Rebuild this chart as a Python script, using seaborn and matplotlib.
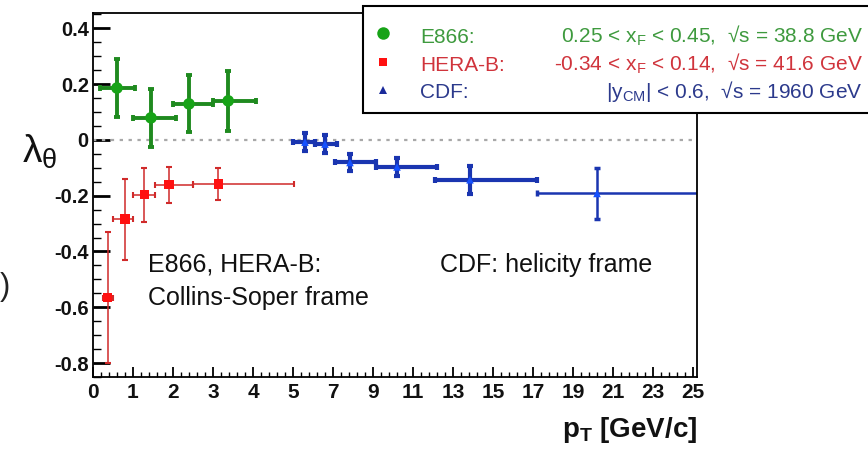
import numpy as np
import pandas as pd
import matplotlib
matplotlib.use("Agg")
import matplotlib.pyplot as plt
import seaborn as sns
from matplotlib.patches import Rectangle
from matplotlib.lines import Line2D
from matplotlib import font_manager

# ---------------- data ----------------
e866_pt = [0.6, 1.45, 2.4, 3.38]
e866_pt_lo = [0.175, 1.0, 2.0, 3.0]
e866_pt_hi = [1.05, 2.07, 3.0, 4.08]
e866_lam = [0.186, 0.079, 0.129, 0.140]
e866_lam_err = [0.105, 0.103, 0.102, 0.108]

hera_pt = [0.37, 0.8, 1.28, 1.9, 3.13]
hera_pt_lo = [0.25, 0.5, 1.0, 1.55, 2.5]
hera_pt_hi = [0.5, 1.0, 1.55, 2.5, 5.05]
hera_lam = [-0.566, -0.284, -0.197, -0.161, -0.158]
hera_lam_err = [0.235, 0.145, 0.097, 0.065, 0.057]

cdf_pt = [5.6, 6.6, 7.85, 10.2, 13.85, 20.2]
cdf_pt_lo = [5.0, 6.1, 7.1, 9.15, 12.1, 17.2]
cdf_pt_hi = [6.1, 7.2, 9.15, 12.2, 17.2, 30.0]
cdf_lam = [-0.008, -0.015, -0.081, -0.097, -0.143, -0.192]
cdf_lam_err = [0.033, 0.033, 0.030, 0.032, 0.050, 0.090]

x_ticks = [0, 1, 2, 3, 4, 5, 7, 9, 11, 13, 15, 17, 19, 21, 23, 25]
y_ticks = [-0.8, -0.6, -0.4, -0.2, 0.0, 0.2, 0.4]
y_tick_labels = ["-0.8", "-0.6", "-0.4", "-0.2", "0", "0.2", "0.4"]

legend_names = ["E866:", "HERA-B:", "CDF:"]
legend_ranges = [
    r"0.25 < $\mathregular{x_F}$ < 0.45,  √s = 38.8 GeV",
    r"-0.34 < $\mathregular{x_F}$ < 0.14,  √s = 41.6 GeV",
    r"|$\mathregular{y_{CM}}$| < 0.6,  √s = 1960 GeV",
]

# ---------------- style ----------------
sns.set_theme(style="ticks")
plt.rcParams["font.family"] = ["Liberation Sans", "DejaVu Sans"]
plt.rcParams["mathtext.default"] = "regular"

available = {f.name for f in font_manager.fontManager.ttflist}
narrow = "Liberation Sans Narrow" if "Liberation Sans Narrow" in available else "Liberation Sans"

green_line = "#1f8a1f"
green_mark = "#17a317"
red_line = "#d02a2a"
red_mark = "#ff1010"
blue_line = "#1a35b0"
blue_mark = "#1450ff"

fig = plt.figure(figsize=(8.68, 4.49), dpi=100)
ax = fig.add_axes([0.1071, 0.1604, 0.6959, 0.8107])


def fwd(x):
    x = np.asarray(x, dtype=float)
    return np.where(x < 5, x, 5 + (x - 5) / 2.0)


def inv(y):
    y = np.asarray(y, dtype=float)
    return np.where(y < 5, y, 5 + (y - 5) * 2.0)


ax.set_xscale("function", functions=(fwd, inv))

# zero line
ax.axhline(0, color="#a8a8a8", lw=1.6, ls=(0, (1.5, 2.5)), zorder=1)


def xerr_of(pt, lo, hi):
    pt = np.asarray(pt)
    return [pt - np.asarray(lo), np.asarray(hi) - pt]


# E866
ax.errorbar(e866_pt, e866_lam, yerr=e866_lam_err,
            xerr=xerr_of(e866_pt, e866_pt_lo, e866_pt_hi),
            fmt="none", ecolor=green_line, elinewidth=2.8, capsize=2.5,
            capthick=2.8, zorder=2)
# HERA-B
ax.errorbar(hera_pt, hera_lam, yerr=hera_lam_err,
            xerr=xerr_of(hera_pt, hera_pt_lo, hera_pt_hi),
            fmt="none", ecolor=red_line, elinewidth=1.1, capsize=2.5,
            capthick=1.5, zorder=2)
# CDF: thick bars except the last bin
ax.errorbar(cdf_pt[:5], cdf_lam[:5], yerr=cdf_lam_err[:5],
            xerr=xerr_of(cdf_pt[:5], cdf_pt_lo[:5], cdf_pt_hi[:5]),
            fmt="none", ecolor=blue_line, elinewidth=3.0, capsize=2.5,
            capthick=3.0, zorder=2)
ax.errorbar(cdf_pt[5:], cdf_lam[5:], yerr=cdf_lam_err[5:],
            xerr=xerr_of(cdf_pt[5:], cdf_pt_lo[5:], cdf_pt_hi[5:]),
            fmt="none", ecolor=blue_line, elinewidth=1.8, capsize=2.5,
            capthick=2.5, zorder=2)

df_e = pd.DataFrame({"pt": e866_pt, "lam": e866_lam})
df_h = pd.DataFrame({"pt": hera_pt, "lam": hera_lam})
df_c = pd.DataFrame({"pt": cdf_pt, "lam": cdf_lam})
sns.scatterplot(data=df_e, x="pt", y="lam", ax=ax, color=green_mark,
                marker="o", s=70, edgecolor="none", zorder=3, legend=False)
sns.scatterplot(data=df_h, x="pt", y="lam", ax=ax, color=red_mark,
                marker="s", s=45, edgecolor="none", zorder=3, legend=False)
sns.scatterplot(data=df_c, x="pt", y="lam", ax=ax, color=blue_mark,
                marker="^", s=30, edgecolor="none", zorder=3, legend=False)

# axes limits and ticks
ax.set_xlim(0, 25.2)
ax.set_ylim(-0.85, 0.455)
ax.set_xticks(x_ticks)
ax.set_xticklabels([str(t) for t in x_ticks])
minor_x = np.concatenate([np.arange(0, 5, 0.2), np.arange(5, 25.01, 0.4)])
ax.set_xticks(minor_x, minor=True)
ax.set_yticks(y_ticks)
ax.set_yticklabels(y_tick_labels)
ax.set_yticks(np.arange(-0.85, 0.46, 0.05), minor=True)

ax.xaxis.set_tick_params(which="major", direction="in", length=7, width=1.3,
                         pad=4, color="black")
ax.xaxis.set_tick_params(which="minor", direction="in", length=3.5, width=1.0,
                         color="black")
ax.yaxis.set_tick_params(which="major", direction="in", length=12, width=2.0,
                         pad=3, color="black")
ax.yaxis.set_tick_params(which="minor", direction="in", length=6, width=1.0,
                         color="black")
ax.tick_params(top=False, right=False, which="both")

for lab in ax.get_xticklabels():
    lab.set_family([narrow, "Liberation Sans"])
    lab.set_fontweight("bold")
    lab.set_fontsize(15)
    lab.set_color("#111111")
for lab in ax.get_yticklabels():
    lab.set_family([narrow, "Liberation Sans"])
    lab.set_fontweight("bold")
    lab.set_fontsize(14.5)
    lab.set_color("#111111")

for sp in ax.spines.values():
    sp.set_linewidth(1.3)
    sp.set_color("black")

ax.set_xlabel("")
ax.set_ylabel("")

# axis titles
fig.text(697 / 868, 1 - 445 / 449, r"p$_\mathregular{T}$ [GeV/c]",
         ha="right", va="bottom", fontsize=20, fontweight="bold",
         family=[narrow, "Liberation Sans"], color="#111111")
fig.text(0.046, 1 - 152 / 449, r"$\lambda_\theta$", ha="center", va="center",
         fontsize=28, math_fontfamily="stix", color="#111111")
fig.text(0.0, 1 - 287 / 449, ")", ha="left", va="center", fontsize=22,
         color="#222222")

# annotations
ax.text((148 - 93) / 604, (377 - 272) / 364, "E866, HERA-B:",
        transform=ax.transAxes, ha="left", va="baseline", fontsize=18,
        color="#111111")
ax.text((148 - 93) / 604, (377 - 305) / 364, "Collins-Soper frame",
        transform=ax.transAxes, ha="left", va="baseline", fontsize=18,
        color="#111111")
ax.text((440 - 93) / 604, (377 - 272) / 364, "CDF: helicity frame",
        transform=ax.transAxes, ha="left", va="baseline", fontsize=18,
        color="#111111")

# legend box
box = Rectangle((363 / 868, 1 - 113 / 449), 0.7, (113 - 6) / 449,
                transform=fig.transFigure, facecolor="white",
                edgecolor="black", lw=1.5, zorder=5)
fig.patches.append(box)

marker_y = [1 - 33 / 449, 1 - 62 / 449, 1 - 90 / 449]
text_base_y = [1 - 43 / 449, 1 - 71 / 449, 1 - 98 / 449]
leg_markers = ["o", "s", "^"]
leg_mcolors = [green_mark, red_mark, "#1a2a9a"]
leg_msizes = [9, 6, 6]
leg_tcolors = ["#3e9a3e", "#d0343c", "#2c3a8c"]
for yy, mk, mc, ms in zip(marker_y, leg_markers, leg_mcolors, leg_msizes):
    fig.add_artist(Line2D([383 / 868], [yy], marker=mk, color=mc,
                          markersize=ms, markeredgewidth=0, linestyle="none",
                          transform=fig.transFigure, zorder=6))
for yy, name, rng, tc in zip(text_base_y, legend_names, legend_ranges,
                             leg_tcolors):
    fig.text(420 / 868, yy, name, ha="left", va="baseline", fontsize=15,
             color=tc, zorder=6)
    fig.text(863 / 868, yy, rng, ha="right", va="baseline", fontsize=15,
             color=tc, zorder=6)

fig.savefig("out.png", dpi=100)
